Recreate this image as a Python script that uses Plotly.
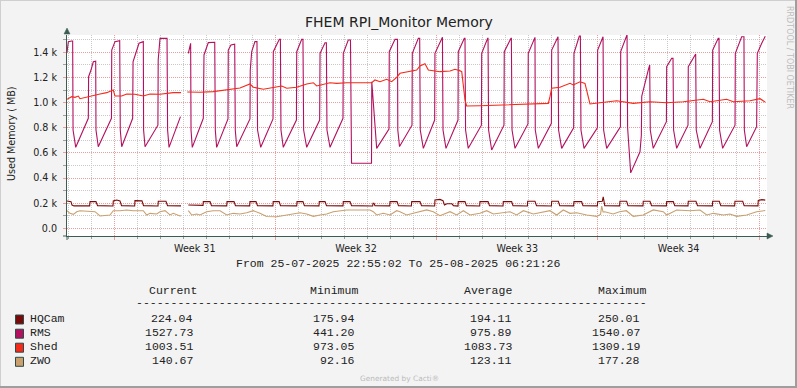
import pandas as pd
import plotly.graph_objects as go

# ---------------- data ----------------
START = "2025-07-25 22:55:02"
END = "2025-08-25 06:21:26"
VIEW_HOURS = 729.2          # visible time span of the x axis, hours after START

names = ["HQCam", "RMS", "Shed", "ZWO"]
colors = ["#7A0A0A", "#B3105F", "#F42A1A", "#C9A06E"]
stat_current = ["224.04", "1527.73", "1003.51", "140.67"]
stat_minimum = ["175.94", "441.20", "973.05", "92.16"]
stat_average = ["194.11", "975.89", "1083.73", "123.11"]
stat_maximum = ["250.01", "1540.07", "1309.19", "177.28"]

y_tick_vals = [0, 200, 400, 600, 800, 1000, 1200, 1400]
y_tick_text = ["0.0", "0.2 k", "0.4 k", "0.6 k", "0.8 k", "1.0 k", "1.2 k", "1.4 k"]
y_minor_vals = [100, 300, 500, 700, 900, 1100, 1300, 1500]

# RMS (hours after START, MB)
rms_hours = [
    0.0, 1.4, 4.9, 5.9, 6.3, 9.1, 22.2, 22.5, 25.0, 27.4, 29.9,
    30.2, 32.6, 46.3, 46.6, 50.0, 54.9,
    55.5, 57.0, 68.4, 68.8, 75.0, 79.5,
    79.8, 81.3, 94.7, 95.0, 96.9, 104.2,
    104.8, 106.3, 118.2, 121.0, 126.4, 128.1, 128.8,
    129.2, 130.5, 142.0, 142.7, 147.2, 153.9,
    154.5, 155.9, 167.7, 168.0, 170.8, 174.7,
    175.3, 176.8, 190.6, 190.9, 192.4, 195.8, 197.9,
    198.5, 201.8, 214.6, 214.9, 221.2, 222.3,
    222.9, 225.3, 239.0, 239.3, 244.5, 245.8,
    246.5, 249.7, 263.2, 263.6, 268.8, 270.2,
    270.8, 274.0, 287.5, 287.8, 293.0, 295.3,
    296.4, 317.2, 317.5, 322.6, 335.4, 335.7, 341.7, 344.3,
    344.6, 346.4, 359.4, 359.7, 366.0, 367.4,
    368.0, 371.2, 383.0, 383.3, 390.3, 391.1,
    391.7, 394.8, 407.3, 407.6, 413.9, 414.6,
    415.2, 418.0, 431.7, 432.0, 438.2, 438.6,
    439.2, 442.4, 455.2, 455.5, 462.5, 462.9,
    463.6, 466.7, 480.2, 480.5, 487.5,
    487.8, 491.0, 504.6, 504.9, 511.2, 511.5,
    512.1, 515.3, 527.8, 528.1, 533.7, 534.8,
    535.4, 538.6, 552.5, 552.8, 558.4,
    559.0, 562.2, 576.5, 576.8, 583.4,
    584.0, 587.2, 596.9, 598.3, 598.7, 603.1, 605.5, 607.0,
    607.6, 610.7, 624.4, 624.7, 629.9, 631.3,
    631.9, 635.1, 646.9, 647.2, 654.2, 654.9,
    655.5, 659.4, 672.3, 672.6, 678.4, 679.2,
    679.8, 683.0, 695.9, 696.2, 702.8, 705.2,
    705.6, 708.0, 718.4, 719.1, 723.7, 727.4,
]
rms_values = [
    1400, 1485, 1490, 1490, 782, 644, 875, 1206, 1259, 1325, 1330,
    782, 649, 875, 1418, 1485, 1492,
    782, 649, 875, 1325, 1472, 1485,
    782, 649, 820, 1339, 1511, 1511,
    782, 644, 888, None, 1392, 1472, 1472,
    782, 644, 875, 1379, 1477, 1480,
    782, 644, 870, 1418, 1458, 1465,
    782, 649, 870, 1259, 1405, 1485, 1485,
    782, 644, 870, 1405, 1503, 1503,
    782, 644, 861, 1405, 1503, 1503,
    782, 644, 861, 1392, 1476, 1476,
    782, 644, 875, 1392, 1498, 1498,
    517, 517, 1166, 636, 790, 1405, 1503, 1503,
    782, 650, 820, 1392, 1511, 1511,
    782, 636, 861, 1392, 1519, 1519,
    782, 636, 861, 1405, 1511, 1511,
    782, 636, 820, 1392, 1511, 1511,
    782, 623, 820, 1405, 1511, 1511,
    782, 636, 830, 1392, 1519,
    782, 636, 835, 1418, 1524, 1524,
    782, 636, 800, 1392, 1530, 1530,
    782, 636, 800, 1418, 1524,
    782, 636, 808, 1405, 1540,
    800, 441, 609, 740, 1050, 1200, 1259, 1299,
    782, 636, 848, 1286, 1352, 1352,
    782, 636, 820, 1286, 1387, 1387,
    782, 636, 848, 1418, 1511, 1511,
    782, 636, 820, 1392, 1524, 1524,
    782, 649, 808, 1392, 1472, 1528,
]

# Shed
shed_hours = [
    0.0, 4.9, 8.3, 11.8, 13.5, 18.8, 27.4, 34.4, 41.4, 46.6, 48.2, 50.0,
    57.0, 62.2, 70.8, 79.5, 86.5, 96.9, 103.9, 110.7, 118.8, 121.0,
    125.3, 138.5, 152.4, 166.4, 180.2, 190.6, 194.1, 204.5, 218.4, 223.7,
    228.9, 239.3, 249.7, 256.6, 260.1, 267.0, 274.0, 280.9, 291.4, 317.4,
    320.8, 326.0, 333.0, 338.2, 343.4, 346.9, 357.3, 364.3, 367.7, 372.9,
    376.4, 381.6, 388.5, 399.0, 404.2, 409.4, 411.2, 414.6, 416.3, 430.2,
    451.0, 485.8, 501.4, 503.1, 504.9, 513.5, 524.0, 527.4, 534.4, 539.6,
    543.1, 544.8, 555.2, 572.6, 589.9, 607.3, 624.7, 642.0, 662.9, 669.8,
    687.2, 694.1, 711.5, 721.9, 727.4,
]
shed_values = [
    1026, 1047, 1042, 1052, 1031, 1039, 1052, 1068, 1079, 1095, 1100, 1052,
    1052, 1068, 1066, 1052, 1068, 1066, 1074, 1079, 1079, None,
    1084, 1082, 1087, 1100, 1116, 1148, 1122, 1106, 1122, 1132,
    1114, 1122, 1148, 1158, 1132, 1148, 1158, 1153, 1158, 1158,
    1180, 1166, 1185, 1166, 1201, 1233, 1246, 1259, 1291, 1309,
    1259, 1254, 1246, 1251, 1265, 1254, 1246, 1021, 973, 975,
    981, 986, 994, 1047, 1114, 1122, 1153, 1140, 1166, 1153,
    1047, 989, 999, 1015, 994, 1007, 999, 1007, 1026, 1007,
    1026, 1007, 1015, 1031, 1004,
]

# HQCam
hq_hours = [
    0.0, 4.2, 5.2, 7.3,
    23.6, 24.0, 30.2, 31.8,
    47.9, 48.2, 51.8, 55.2, 56.8,
    70.5, 70.8, 78.1, 79.7,
    94.8, 95.1, 103.1, 104.7,
    118.8, 121.0, 126.4,
    141.7, 142.0, 149.0, 150.5,
    166.4, 166.7, 174.0, 175.5,
    190.3, 190.6, 196.9, 198.4,
    214.5, 214.8, 221.0, 222.4,
    239.3, 239.6, 245.8, 247.3,
    262.5, 262.8, 268.8, 270.3,
    287.5, 287.8, 294.8, 296.4,
    318.4, 318.8, 319.8, 320.8,
    336.2, 336.5, 343.8, 345.3,
    358.7, 359.1, 367.7, 369.3,
    383.0, 383.3, 388.5, 391.7, 393.2, 395.8, 401.0, 402.6,
    407.3, 407.6, 414.6, 416.1,
    429.9, 430.2, 438.6, 440.1,
    454.2, 454.5, 463.2, 464.6,
    479.6, 479.9, 487.5, 489.1,
    504.6, 504.9, 511.8, 513.3,
    527.8, 528.1, 536.1, 537.5,
    552.5, 552.8, 557.6, 558.6, 559.4, 560.2,
    575.7, 576.0, 583.0, 584.4,
    600.0, 600.3, 607.3, 608.9,
    624.4, 624.7, 631.6, 633.1,
    646.9, 647.2, 655.2, 656.8,
    672.3, 672.6, 679.5, 681.1,
    695.5, 695.8, 703.9, 705.4,
    719.8, 720.1, 724.0, 727.4,
]
hq_values = [
    217, 212, 185, 178,
    178, 212, 212, 180,
    177, 218, 225, 218, 180,
    177, 220, 218, 180,
    177, 215, 215, 180,
    178, None, 185,
    182, 212, 212, 180,
    178, 212, 212, 180,
    178, 212, 212, 180,
    178, 212, 212, 180,
    178, 212, 212, 180,
    178, 212, 212, 180,
    178, 212, 212, 180,
    177, 199, 199, 180,
    178, 212, 212, 180,
    177, 212, 212, 180,
    177, 225, 230, 220, 185, 195, 195, 180,
    177, 212, 212, 180,
    177, 212, 212, 180,
    177, 212, 212, 180,
    177, 215, 215, 180,
    177, 215, 215, 180,
    178, 212, 212, 180,
    178, 212, 215, 250, 195, 180,
    178, 215, 215, 180,
    178, 215, 215, 180,
    178, 212, 212, 180,
    178, 215, 215, 180,
    178, 215, 215, 180,
    178, 215, 215, 180,
    178, 222, 228, 224,
]

# ZWO
zwo_hours = [
    0.0, 3.1, 6.6, 10.1, 13.5, 20.5, 25.7, 29.2, 34.4, 44.8, 48.2, 55.2,
    62.2, 69.1, 79.5, 83.0, 86.5, 93.4, 96.9, 102.1, 107.3, 110.7, 117.7,
    118.8, 121.0, 126.4, 129.9, 135.1, 138.5, 145.5, 152.4, 159.4, 166.4,
    173.2, 180.2, 187.2, 194.1, 201.0, 208.0, 218.4, 228.9, 235.7, 242.7,
    249.7, 256.6, 263.6, 270.5, 277.4, 287.8, 291.4, 315.6, 319.1, 322.6,
    329.5, 336.5, 343.4, 346.9, 353.8, 360.7, 367.7, 374.7, 381.6, 388.5,
    399.0, 405.9, 412.9, 419.8, 430.2, 437.2, 444.1, 451.0, 461.5, 468.4,
    475.4, 485.8, 496.2, 503.1, 510.1, 517.0, 524.0, 531.0, 541.4, 551.8,
    555.8, 557.0, 558.4, 560.2, 568.9, 575.7, 582.7, 589.9, 600.3, 610.7,
    621.1, 624.7, 635.1, 648.9, 659.4, 666.4, 673.3, 683.8, 690.6, 697.6,
    708.0, 718.4, 727.4,
]
zwo_values = [
    140, 119, 111, 132, 140, 137, 137, 132, 98, 106, 140, 140,
    146, 140, 140, 106, 119, 114, 132, 140, 106, 119, 98,
    100, None, 140, 106, 114, 106, 132, 140, 140, 106,
    119, 114, 124, 140, 119, 94, 92, 106, 114, 124,
    114, 95, 106, 114, 132, 140, 146, 146, 132, 106,
    119, 106, 140, 132, 106, 119, 132, 146, 132, 100,
    132, 106, 140, 106, 119, 140, 114, 119, 132, 106,
    140, 114, 132, 140, 106, 146, 119, 124, 106, 95,
    110, 177, 130, 132, 114, 132, 140, 95, 106, 146,
    132, 106, 146, 140, 146, 106, 119, 106, 114, 95,
    106, 132, 141,
]

# ---------------- layout helpers (pixel -> paper) ----------------
W, H = 797, 388
PL, PR, PT, PB = 67, 767, 35, 236


def px(x):
    return (x - PL) / (PR - PL)


def py(y):
    return (PB - y) / (PB - PT)


start = pd.Timestamp(START)


def to_time(hours):
    return [start + pd.Timedelta(hours=h) for h in hours]


MAJOR = "#EE9C9C"
MINOR = "#C9C9C9"
AXIS = "#3C5C52"
SANS = "DejaVu Sans"
MONO = "Liberation Mono"

fig = go.Figure()
series = [
    (hq_hours, hq_values),
    (rms_hours, rms_values),
    (shed_hours, shed_values),
    (zwo_hours, zwo_values),
]
for (hrs, vals), name, col in zip(series, names, colors):
    assert len(hrs) == len(vals), name
    fig.add_trace(go.Scatter(
        x=to_time(hrs), y=vals, mode="lines", name=name,
        line=dict(color=col, width=1.1), connectgaps=False,
        hoverinfo="skip"))

fig.update_layout(
    width=W, height=H,
    margin=dict(l=PL, r=W - PR, t=PT, b=H - PB, autoexpand=False),
    paper_bgcolor="#F3F3F3", plot_bgcolor="#FFFFFF",
    showlegend=False,
    font=dict(family=SANS, size=9.6, color="#222222"),
)

fig.update_xaxes(
    type="date",
    range=[start, start + pd.Timedelta(hours=VIEW_HOURS)],
    tickmode="linear", tick0="2025-07-28", dtick=7 * 86400000,
    ticklabelmode="period", tickformat="Week %V",
    tickfont=dict(family=SANS, size=9.6, color="#222222"),
    showgrid=True, gridcolor=MAJOR, griddash="1px,1px", gridwidth=1,
    ticks="outside", ticklen=3, tickcolor=MAJOR,
    showline=True, linecolor=AXIS, linewidth=1,
    zeroline=False,
    minor=dict(tick0="2025-07-26", dtick=86400000, showgrid=True,
               gridcolor=MINOR, griddash="1px,1px", ticks="outside",
               ticklen=2, tickcolor="#9A9A9A"),
)
fig.update_yaxes(
    range=[-61.3, 1537.7],
    tickmode="array", tickvals=y_tick_vals, ticktext=y_tick_text,
    tickfont=dict(family=SANS, size=9.6, color="#222222"),
    showgrid=True, gridcolor=MAJOR, griddash="1px,1px", gridwidth=1,
    ticks="outside", ticklen=3, tickcolor=MAJOR, ticklabelstandoff=4,
    showline=True, linecolor=AXIS, linewidth=1,
    zeroline=False,
    minor=dict(tickvals=y_minor_vals, showgrid=True, gridcolor=MINOR,
               griddash="1px,1px", ticks="outside", ticklen=3,
               tickcolor="#A0A0A0"),
)

ann = []


def text(x, y, s, size, family=SANS, color="#222222", xanchor="center",
         yanchor="middle", angle=0):
    ann.append(dict(x=px(x), y=py(y), xref="paper", yref="paper", text=s,
                    showarrow=False, xanchor=xanchor, yanchor=yanchor,
                    textangle=angle, borderpad=0, borderwidth=0,
                    font=dict(family=family, size=size, color=color)))


text(399, 22, "FHEM RPI_Monitor Memory", 14)
text(11, 134, "Used Memory ( MB)", 9.6, angle=-90)
text(789, 57, "RRDTOOL / TOBI OETIKER", 8, color="#BDBDBD", angle=90)
text(399, 378, "Generated by Cacti®", 7.4, color="#BBBBBB")
text(398, 263, f"From {pd.Timestamp(START):%d-%m-%Y %H:%M:%S} To "
     f"{pd.Timestamp(END):%d-%m-%Y %H:%M:%S}", 11.5, family=MONO)

headers = ["Current", "Minimum", "Average", "Maximum"]
header_right = [197, 358, 512, 646]
value_right = [192.5, 355, 511.5, 639.5]
for hd, xr in zip(headers, header_right):
    text(xr, 290, hd, 11.5, family=MONO, xanchor="right")
text(136, 302, "-" * 74, 11.5, family=MONO, xanchor="left")

row_y = [318.5, 332.7, 346.7, 360.8]
shapes = []
cols = [stat_current, stat_minimum, stat_average, stat_maximum]
for i, name in enumerate(names):
    yy = row_y[i]
    text(30, yy, name, 11.5, family=MONO, xanchor="left")
    for col, xr in zip(cols, value_right):
        text(xr, yy, col[i], 11.5, family=MONO, xanchor="right")
    shapes.append(dict(type="rect", xref="paper", yref="paper",
                       x0=px(15.5), x1=px(23.5), y0=py(yy + 5.5), y1=py(yy - 3.5),
                       fillcolor=colors[i], line=dict(color="#2F4A44", width=1)))

# axis arrows
shapes.append(dict(type="path", xref="paper", yref="paper",
                   path=f"M {px(64)} {py(34)} L {px(70)} {py(34)} L {px(67)} {py(28)} Z",
                   fillcolor=AXIS, line=dict(color=AXIS, width=0.5)))
shapes.append(dict(type="path", xref="paper", yref="paper",
                   path=f"M {px(767)} {py(233)} L {px(767)} {py(239)} L {px(773)} {py(236)} Z",
                   fillcolor=AXIS, line=dict(color=AXIS, width=0.5)))
shapes.append(dict(type="line", xref="paper", yref="paper",
                   x0=px(63), x1=px(67), y0=py(236), y1=py(236),
                   line=dict(color=AXIS, width=1)))
shapes.append(dict(type="line", xref="paper", yref="paper",
                   x0=px(67), x1=px(67), y0=py(236), y1=py(240),
                   line=dict(color=AXIS, width=1)))
# outer frame (rrdtool shading)
shapes += [
    dict(type="line", xref="paper", yref="paper", x0=px(0), x1=px(797),
         y0=py(0.5), y1=py(0.5), line=dict(color="#CFCFCF", width=1)),
    dict(type="line", xref="paper", yref="paper", x0=px(0.5), x1=px(0.5),
         y0=py(0), y1=py(388), line=dict(color="#CFCFCF", width=1)),
    dict(type="line", xref="paper", yref="paper", x0=px(0), x1=px(797),
         y0=py(387), y1=py(387), line=dict(color="#9E9E9E", width=2)),
    dict(type="line", xref="paper", yref="paper", x0=px(796), x1=px(796),
         y0=py(0), y1=py(388), line=dict(color="#9E9E9E", width=2)),
]

fig.update_layout(annotations=ann, shapes=shapes)
fig.write_html(
    "out.html",
    config={"displayModeBar": False},
    post_script="document.body.style.margin='0';document.body.style.overflow='hidden';",
)
